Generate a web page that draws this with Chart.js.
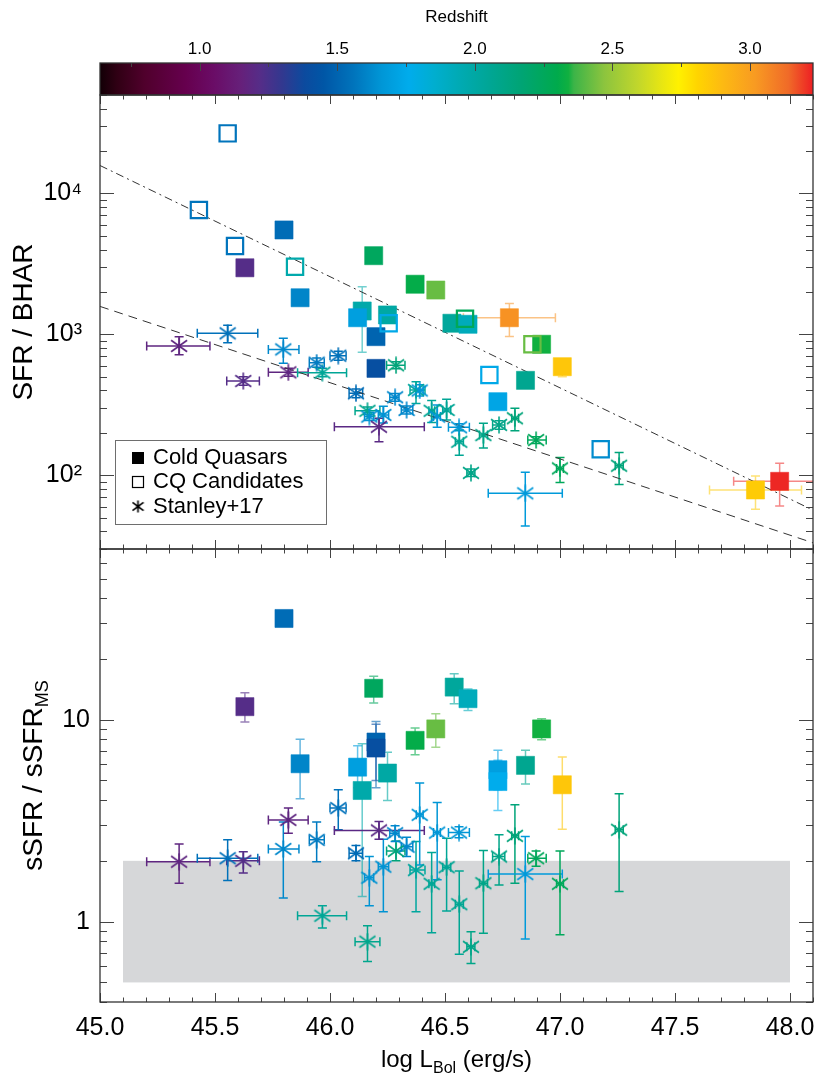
<!DOCTYPE html>
<html>
<head>
<meta charset="utf-8">
<script src="https://cdn.jsdelivr.net/npm/chart.js@4.4.0/dist/chart.umd.min.js"></script>
<style>
  html, body { margin: 0; padding: 0; background: #fff; }
  #wrap { position: relative; width: 830px; height: 1078px; }
  #wrap canvas { position: absolute; left: 0; top: 0; }
</style>
</head>
<body>
<div id="wrap">
  <canvas id="barChart" width="830" height="1078"></canvas>
  <canvas id="ratioChart" width="830" height="1078"></canvas>
  <canvas id="ssfrChart" width="830" height="1078"></canvas>
</div>
<script>
// Redshift colour scale
const zStops  = [0.638, 0.70, 0.80, 0.95, 1.05, 1.15, 1.22, 1.30, 1.38, 1.45, 1.56, 1.66, 1.76, 1.85, 1.95, 2.05, 2.17, 2.30, 2.34, 2.36, 2.47, 2.59, 2.68, 2.74, 2.81, 2.90, 3.02, 3.14, 3.229];
const zColors = ['#120006', '#300014', '#50002c', '#66004e', '#6a0c66', '#66207a', '#552d88', '#32388f', '#0c4a9e', '#0056a6', '#0074bc', '#0096d6', '#00acec', '#00aed0', '#00aab2', '#00a696', '#00a474', '#00aa4c', '#10b040', '#3cb448', '#8cc43e', '#c0d62c', '#e8e612', '#fff100', '#ffd400', '#fdba12', '#f89a22', '#f06a28', '#ed1f24'];
const zTickLabels = ['1.0', '1.5', '2.0', '2.5', '3.0'];

// Cold Quasars, SFR / BHAR
const cqLbol   = [45.63, 45.80, 45.87, 46.19, 46.37, 46.46, 46.14, 46.12, 46.25, 46.20, 46.20, 46.53, 46.60, 46.78, 46.92, 47.01, 46.85, 46.73, 47.85, 47.955];
const cqRatio  = [2970, 5510, 1820, 3620, 2270, 2065, 1466, 1313, 1374, 964, 574, 1200, 1180, 1313, 851, 590, 472, 333, 78.7, 90.6];
const cqZ      = [1.22, 1.53, 1.61, 2.24, 2.31, 2.42, 1.98, 1.70, 2.00, 1.50, 1.41, 2.03, 1.92, 3.04, 2.34, 2.86, 2.07, 1.73, 2.84, 3.22];
const cqRatioHi = [null, null, null, null, null, null, 2180, null, null, null, null, null, null, 1660, null, 640, null, null, 99, 121.6];
const cqRatioLo = [null, null, null, null, null, null, 746, null, null, null, null, null, null, 968, null, 500, null, null, 57.4, 60.5];
const cqLbolLo  = [null, null, null, null, null, null, null, null, null, null, null, null, null, 46.58, null, null, null, null, 47.65, 47.755];
const cqLbolHi  = [null, null, null, null, null, null, null, null, null, null, null, null, null, 46.98, null, null, null, null, 48.05, 48.155];

// CQ candidates, SFR / BHAR
const candLbol  = [45.555, 45.43, 45.587, 45.848, 46.255, 46.587, 46.88, 46.693, 47.177];
const candRatio = [26700, 7640, 4240, 3020, 1200, 1290, 851, 515, 153];
const candZ     = [1.56, 1.56, 1.56, 1.97, 1.74, 2.26, 2.42, 1.74, 1.63];

// Cold Quasars, sSFR / sSFR_MS
const ssLbol = [45.80, 45.63, 46.19, 46.20, 46.20, 46.37, 45.87, 46.12, 46.14, 46.25, 46.46, 46.54, 46.60, 46.92, 46.73, 46.73, 46.85, 47.01];
const ssVal  = [31.7, 11.6, 14.3, 7.75, 7.24, 7.9, 6.05, 5.82, 4.46, 5.44, 9.0, 14.5, 12.7, 9.0, 5.65, 4.94, 5.94, 4.76];
const ssZ    = [1.53, 1.22, 2.24, 1.50, 1.41, 2.31, 1.61, 1.70, 1.98, 2.00, 2.42, 2.03, 1.92, 2.34, 1.70, 1.76, 2.07, 2.86];
const ssHi   = [null, 13.6, 16.4, 9.8, 9.5, 9.1, 8.0, 7.43, 7.6, 6.9, 10.7, 16.9, 14.2, 10.1, 7.05, 6.3, 7.05, 6.53];
const ssLo   = [null, 9.75, 12.1, 4.6, 5.0, 6.7, 4.06, 4.6, 1.33, 3.98, 7.3, 12.0, 11.1, 7.95, 4.5, 3.55, 4.8, 2.87];

// Stanley+17
const stLbol   = [45.344, 45.555, 45.623, 45.797, 45.819, 45.967, 45.942, 46.036, 46.113, 46.287, 46.163, 46.171, 46.232, 46.213, 46.283, 46.333, 46.374, 46.39, 46.442, 46.466, 46.507, 46.561, 46.562, 46.667, 46.735, 46.804, 46.896, 46.613, 46.849, 47.0, 47.257];
const stLbolLo = [45.203, 45.423, 45.551, 45.732, 45.732, 45.859, 45.91, 46.0, 46.083, 46.246, 46.109, 46.15, 46.21, 46.019, 46.26, 46.31, 46.348, 46.375, 46.43, 46.45, 46.49, 46.515, 46.545, 46.65, 46.707, 46.79, 46.86, 46.595, 46.688, 46.985, 47.24];
const stLbolHi = [45.478, 45.686, 45.693, 45.865, 45.905, 46.072, 45.975, 46.07, 46.142, 46.326, 46.217, 46.19, 46.255, 46.41, 46.3, 46.36, 46.413, 46.405, 46.455, 46.48, 46.525, 46.606, 46.58, 46.685, 46.76, 46.82, 46.94, 46.63, 47.01, 47.015, 47.275];
const stZ      = [1.18, 1.55, 1.22, 1.62, 1.18, 2.05, 1.58, 1.55, 1.53, 2.15, 2.08, 1.65, 1.65, 1.20, 1.62, 1.62, 2.02, 1.66, 2.05, 1.66, 2.05, 1.66, 2.06, 2.10, 2.10, 2.15, 2.25, 2.10, 1.68, 2.25, 2.15];
const stRatio   = [828, 1018, 467, 783, 538, 535, 630, 706, 382, 604, 287, 261, 268, 221, 358, 291, 403, 400, 287, 261, 291, 219, 173, 193, 228, 254, 178, 104, 74.5, 112, 117];
const stRatioHi = [964, 1161, 500, 938, 575, 575, 680, 760, 410, 640, 305, 280, 309, 254, 380, 310, 461, 440, 339, 315, 346, 232, 210, 234, 244, 299, 188, 111, 105, 134, 145];
const stRatioLo = [718, 873, 436, 624, 505, 500, 585, 655, 355, 570, 270, 245, 235, 173, 335, 272, 324, 365, 237, 219, 247, 207, 139, 156, 212, 207, 168, 98, 43.6, 89, 86];
const stSsfr   = [1.98, 2.06, 2.0, 2.29, 3.19, 1.07, 2.54, 3.65, 2.18, 2.24, 0.796, 1.65, 1.87, 2.83, 2.74, 2.35, 1.8, 3.38, 1.54, 2.76, 1.86, 2.76, 1.22, 1.55, 2.1, 2.66, 2.06, 0.75, 1.72, 1.54, 2.85];
const stSsfrHi = [2.42, 2.54, 2.22, 3.11, 3.65, 1.2, 3.11, 4.5, 2.38, 2.51, 0.955, 2.1, 2.56, 3.13, 2.98, 2.62, 2.49, 4.86, 2.2, 3.89, 2.59, 2.95, 1.78, 2.25, 2.69, 3.79, 2.24, 0.89, 2.64, 2.24, 4.3];
const stSsfrLo = [1.55, 1.6, 1.74, 1.31, 2.74, 0.93, 1.98, 2.85, 2.0, 2.0, 0.634, 1.2, 1.12, 2.56, 2.49, 2.1, 1.12, 1.91, 0.88, 1.61, 1.13, 2.6, 0.69, 0.875, 1.52, 1.55, 1.88, 0.62, 0.82, 0.86, 1.41];

// reference lines and main-sequence band
const lineLbol     = [45.0, 48.1];
const dashDotRatio = [15800, 56.6];
const dashRatio    = [1580, 33.2];
const bandLbol = [45.1, 48.0];
const bandSsfr = [0.5, 2.0];

// axis tick labels
const lbolTickLabels  = ['45.0', '45.5', '46.0', '46.5', '47.0', '47.5', '48.0'];
const ratioDecades    = [2, 3, 4];
const ratioTickLabels = ['10²', '10³', '10⁴'];
const ssfrDecades     = [0, 1];
const ssfrTickLabels  = ['1', '10'];

const FONT = "'Liberation Sans', Arial, Helvetica, sans-serif";
Chart.defaults.font.family = FONT;
Chart.defaults.color = '#000';

function hexRgb(h) {
  const n = parseInt(h.slice(1), 16);
  return [n >> 16, (n >> 8) & 255, n & 255];
}

function zColor(z, a) {
  let i = 0;
  while (i < zStops.length - 2 && z > zStops[i + 1]) i++;
  const t = Math.min(1, Math.max(0, (z - zStops[i]) / (zStops[i + 1] - zStops[i])));
  const c0 = hexRgb(zColors[i]), c1 = hexRgb(zColors[i + 1]);
  const c = c0.map((v, k) => Math.round(v + (c1[k] - v) * t));
  return a == null ? `rgb(${c.join(',')})` : `rgba(${c.join(',')},${a})`;
}

// IDL-style asterisk as a point image
function asteriskIcon(color, size) {
  const c = document.createElement('canvas');
  c.width = c.height = size;
  const g = c.getContext('2d');
  const h = size / 2;
  g.strokeStyle = color;
  g.fillStyle = color;
  g.lineWidth = 1.6;
  g.beginPath();
  g.moveTo(h, 0.5); g.lineTo(h, size - 0.5);
  g.moveTo(1, size * 0.18); g.lineTo(size - 1, size * 0.82);
  g.moveTo(size - 1, size * 0.18); g.lineTo(1, size * 0.82);
  g.stroke();
  g.beginPath();
  g.arc(h, h, 1.8, 0, Math.PI * 2);
  g.fill();
  return c;
}

function linearValues(min, max, step) {
  const out = [];
  const start = Math.ceil(min / step - 1e-9);
  for (let k = start; k * step <= max + 1e-9; k++) out.push(+(k * step).toFixed(6));
  return out;
}

function logValues(min, max) {
  const out = [];
  for (let e = Math.floor(Math.log10(min)); e <= Math.ceil(Math.log10(max)); e++) {
    for (let m = 1; m <= 9; m++) {
      const v = m * Math.pow(10, e);
      if (v >= min * (1 - 1e-9) && v <= max * (1 + 1e-9)) out.push({ v, major: m === 1 });
    }
  }
  return out;
}

function isStep(v, step) {
  return Math.abs(v / step - Math.round(v / step)) < 1e-6;
}

// inward ticks and frame, like IDL plots
const idlAxes = {
  id: 'idlAxes',
  afterDatasetsDraw(chart, args, o) {
    const { ctx, chartArea: a } = chart;
    ctx.save();
    ctx.strokeStyle = '#444';
    ctx.lineWidth = 1;
    ctx.beginPath();
    if (o.x) {
      const xs = chart.scales.x;
      linearValues(xs.min, xs.max, o.x.step).forEach(v => {
        const px = Math.round(xs.getPixelForValue(v)) + 0.5;
        const len = isStep(v, o.x.major) ? o.x.len[0] : o.x.len[1];
        if (o.x.top) { ctx.moveTo(px, a.top); ctx.lineTo(px, a.top + len); }
        if (o.x.bottom) { ctx.moveTo(px, a.bottom); ctx.lineTo(px, a.bottom - len); }
      });
    }
    if (o.y) {
      const ys = chart.scales.y;
      logValues(ys.min, ys.max).forEach(t => {
        const py = Math.round(ys.getPixelForValue(t.v)) + 0.5;
        const len = t.major ? o.y.len[0] : o.y.len[1];
        ctx.moveTo(a.left, py); ctx.lineTo(a.left + len, py);
        ctx.moveTo(a.right, py); ctx.lineTo(a.right - len, py);
      });
    }
    ctx.stroke();
    ctx.lineWidth = 1.3;
    ctx.strokeStyle = '#333';
    ctx.strokeRect(a.left, a.top, a.right - a.left, a.bottom - a.top);
    ctx.restore();
  }
};

// error bars from dataset.err
const errorBars = {
  id: 'errorBars',
  beforeDatasetsDraw(chart) {
    const { ctx, chartArea: a } = chart;
    const xs = chart.scales.x, ys = chart.scales.y;
    ctx.save();
    ctx.beginPath();
    ctx.rect(a.left, a.top, a.right - a.left, a.bottom - a.top);
    ctx.clip();
    chart.data.datasets.forEach(ds => {
      const e = ds.err;
      if (!e) return;
      ds.data.forEach((p, i) => {
        const px = xs.getPixelForValue(p.x), py = ys.getPixelForValue(p.y);
        const cap = e.cap;
        ctx.strokeStyle = e.colors[i];
        ctx.lineWidth = e.width;
        ctx.beginPath();
        if (e.yLo && e.yLo[i] != null) {
          const y0 = ys.getPixelForValue(e.yLo[i]), y1 = ys.getPixelForValue(e.yHi[i]);
          ctx.moveTo(px, y0); ctx.lineTo(px, y1);
          ctx.moveTo(px - cap, y0); ctx.lineTo(px + cap, y0);
          ctx.moveTo(px - cap, y1); ctx.lineTo(px + cap, y1);
        }
        if (e.xLo && e.xLo[i] != null) {
          const x0 = xs.getPixelForValue(e.xLo[i]), x1 = xs.getPixelForValue(e.xHi[i]);
          ctx.moveTo(x0, py); ctx.lineTo(x1, py);
          ctx.moveTo(x0, py - cap); ctx.lineTo(x0, py + cap);
          ctx.moveTo(x1, py - cap); ctx.lineTo(x1, py + cap);
        }
        ctx.stroke();
      });
    });
    ctx.restore();
  }
};

// colour bar gradient
const colorBarFill = {
  id: 'colorBarFill',
  beforeDatasetsDraw(chart) {
    const { ctx, chartArea: a, scales: { x } } = chart;
    const g = ctx.createLinearGradient(a.left, 0, a.right, 0);
    zStops.forEach((z, i) => {
      const f = (x.getPixelForValue(z) - a.left) / (a.right - a.left);
      g.addColorStop(Math.min(1, Math.max(0, f)), zColors[i]);
    });
    ctx.fillStyle = g;
    ctx.fillRect(a.left, a.top, a.right - a.left, a.bottom - a.top);
  }
};

// grey band in lower panel
const msBand = {
  id: 'msBand',
  beforeDatasetsDraw(chart) {
    const { ctx, scales: { x, y } } = chart;
    const x0 = x.getPixelForValue(bandLbol[0]), x1 = x.getPixelForValue(bandLbol[1]);
    const y0 = y.getPixelForValue(bandSsfr[1]), y1 = y.getPixelForValue(bandSsfr[0]);
    ctx.save();
    ctx.fillStyle = '#d6d7d9';
    ctx.fillRect(x0, y0, x1 - x0, y1 - y0);
    ctx.restore();
  }
};

function drawSubText(ctx, main, sub, tail, big, small, drop, cx, y) {
  ctx.font = `${big}px ${FONT}`;
  const w1 = ctx.measureText(main).width, w3 = ctx.measureText(tail).width;
  ctx.font = `${small}px ${FONT}`;
  const w2 = ctx.measureText(sub).width;
  let x = cx - (w1 + w2 + w3) / 2;
  ctx.textAlign = 'left';
  ctx.textBaseline = 'alphabetic';
  ctx.font = `${big}px ${FONT}`; ctx.fillText(main, x, y); x += w1;
  ctx.font = `${small}px ${FONT}`; ctx.fillText(sub, x, y + drop); x += w2;
  ctx.font = `${big}px ${FONT}`; ctx.fillText(tail, x, y);
}

// y titles and x title (with subscripts)
const axisTitles = {
  id: 'axisTitles',
  afterDraw(chart, args, o) {
    const { ctx, chartArea: a } = chart;
    ctx.save();
    ctx.fillStyle = '#000';
    if (o.x) drawSubText(ctx, o.x[0], o.x[1], o.x[2], 24, 16, 6, (a.left + a.right) / 2, 1067);
    ctx.translate(o.yBase, (a.top + a.bottom) / 2);
    ctx.rotate(-Math.PI / 2);
    drawSubText(ctx, o.y[0], o.y[1], o.y[2], 28, 18, 6, 0, 0);
    ctx.restore();
  }
};

// legend box in upper panel
const legendBox = {
  id: 'legendBox',
  afterDraw(chart) {
    const ctx = chart.ctx;
    const labels = chart.data.datasets.filter(d => d.legendRow != null)
      .sort((p, q) => p.legendRow - q.legendRow).map(d => d.label);
    ctx.save();
    ctx.strokeStyle = '#6e6e6e';
    ctx.lineWidth = 1;
    ctx.strokeRect(115.5, 440.5, 211, 84);
    ctx.fillStyle = '#000';
    ctx.fillRect(132, 452, 12, 12);
    ctx.strokeStyle = '#000';
    ctx.lineWidth = 1.2;
    ctx.strokeRect(132.5, 476.5, 11, 11);
    ctx.drawImage(asteriskIcon('#000', 13), 131.5, 500);
    ctx.font = `22px ${FONT}`;
    ctx.textBaseline = 'alphabetic';
    ctx.textAlign = 'left';
    labels.forEach((t, i) => ctx.fillText(t, 153, 464 + i * 24.4));
    ctx.restore();
  }
};

function labelFor(values, labels, v, tol) {
  const i = values.findIndex(s => Math.abs(s - v) < tol);
  return i < 0 ? '' : labels[i];
}

const baseOptions = {
  responsive: false,
  animation: false,
  events: [],
};

// ---- colour bar ----
new Chart(document.getElementById('barChart'), {
  type: 'scatter',
  data: { datasets: [] },
  options: {
    ...baseOptions,
    layout: { padding: { left: 100, right: 17, top: 0, bottom: 983 } },
    plugins: {
      legend: { display: false },
      tooltip: { enabled: false },
      idlAxes: { x: { step: 0.25, major: 0.5, len: [8, 4], top: true, bottom: false } }
    },
    scales: {
      x: {
        type: 'linear', position: 'top', min: zStops[0], max: zStops[zStops.length - 1],
        afterFit: s => { s.height = 63; },
        grid: { display: false, drawTicks: false },
        border: { display: false },
        ticks: {
          stepSize: 0.25, includeBounds: false, autoSkip: false, maxRotation: 0, padding: 3,
          font: { size: 17 }, color: '#000',
          callback: v => labelFor(zTickLabels.map(Number), zTickLabels, v, 1e-6)
        },
        title: {
          display: true, text: 'Redshift', font: { size: 17, weight: 'normal' }, color: '#000',
          padding: { top: 7, bottom: 0 }
        }
      },
      y: { display: false, min: 0, max: 1 }
    }
  },
  plugins: [colorBarFill, idlAxes]
});

// ---- upper panel: SFR / BHAR ----
const stIcons = stZ.map(z => asteriskIcon(zColor(z), 18));

new Chart(document.getElementById('ratioChart'), {
  type: 'scatter',
  data: {
    datasets: [
      {
        label: 'CQ Candidates', legendRow: 1, order: 1,
        data: candLbol.map((x, i) => ({ x, y: candRatio[i] })),
        pointStyle: 'rect', pointRadius: 11.5, pointBorderWidth: 2.2,
        pointBackgroundColor: 'rgba(0,0,0,0)',
        pointBorderColor: candZ.map(z => zColor(z))
      },
      {
        label: 'Cold Quasars', legendRow: 0, order: 2,
        data: cqLbol.map((x, i) => ({ x, y: cqRatio[i] })),
        pointStyle: 'rect', pointRadius: 12.8, pointBorderWidth: 1,
        pointBackgroundColor: cqZ.map(z => zColor(z)),
        pointBorderColor: cqZ.map(z => zColor(z, 0.55)),
        err: { xLo: cqLbolLo, xHi: cqLbolHi, yLo: cqRatioLo, yHi: cqRatioHi, colors: cqZ.map(z => zColor(z, 0.55)), width: 1.5, cap: 4.5 }
      },
      {
        label: 'Stanley+17', legendRow: 2, order: 3,
        data: stLbol.map((x, i) => ({ x, y: stRatio[i] })),
        pointStyle: stIcons, pointRadius: 8,
        err: { xLo: stLbolLo, xHi: stLbolHi, yLo: stRatioLo, yHi: stRatioHi, colors: stZ.map(z => zColor(z)), width: 1.5, cap: 4.5 }
      },
      {
        label: 'dashed', order: 4, showLine: true, pointRadius: 0,
        data: lineLbol.map((x, i) => ({ x, y: dashRatio[i] })),
        borderColor: '#333', borderWidth: 1, borderDash: [9, 6]
      },
      {
        label: 'dash-dot', order: 5, showLine: true, pointRadius: 0,
        data: lineLbol.map((x, i) => ({ x, y: dashDotRatio[i] })),
        borderColor: '#333', borderWidth: 1, borderDash: [8, 4, 2, 4]
      }
    ]
  },
  options: {
    ...baseOptions,
    layout: { padding: { left: 0, right: 17, top: 95, bottom: 529 } },
    plugins: {
      legend: { display: false },
      tooltip: { enabled: false },
      idlAxes: {
        x: { step: 0.1, major: 0.5, len: [9, 4.5], top: true, bottom: true },
        y: { len: [14, 7] }
      },
      axisTitles: { y: ['SFR / BHAR', '', ''], yBase: 31.5 }
    },
    scales: {
      x: { type: 'linear', display: false, min: 45.0, max: 48.1 },
      y: {
        type: 'logarithmic', min: 30, max: 50000,
        afterFit: s => { s.width = 100; },
        grid: { display: false, drawTicks: false },
        border: { display: false },
        ticks: {
          autoSkip: false, padding: 18, font: { size: 25 }, color: '#000',
          callback: v => labelFor(ratioDecades, ratioTickLabels, Math.log10(v), 1e-6)
        }
      }
    }
  },
  plugins: [errorBars, idlAxes, axisTitles, legendBox]
});

// ---- lower panel: sSFR / sSFR_MS ----
new Chart(document.getElementById('ssfrChart'), {
  type: 'scatter',
  data: {
    datasets: [
      {
        label: 'Cold Quasars', order: 1,
        data: ssLbol.map((x, i) => ({ x, y: ssVal[i] })),
        pointStyle: 'rect', pointRadius: 12.8, pointBorderWidth: 1,
        pointBackgroundColor: ssZ.map(z => zColor(z)),
        pointBorderColor: ssZ.map(z => zColor(z, 0.55)),
        err: { yLo: ssLo, yHi: ssHi, colors: ssZ.map(z => zColor(z, 0.6)), width: 1.5, cap: 4.5 }
      },
      {
        label: 'Stanley+17', order: 2,
        data: stLbol.map((x, i) => ({ x, y: stSsfr[i] })),
        pointStyle: stIcons, pointRadius: 8,
        err: { xLo: stLbolLo, xHi: stLbolHi, yLo: stSsfrLo, yHi: stSsfrHi, colors: stZ.map(z => zColor(z)), width: 1.5, cap: 4.5 }
      }
    ]
  },
  options: {
    ...baseOptions,
    layout: { padding: { left: 0, right: 17, top: 549, bottom: 0 } },
    plugins: {
      legend: { display: false },
      tooltip: { enabled: false },
      idlAxes: {
        x: { step: 0.1, major: 0.5, len: [9, 4.5], top: true, bottom: true },
        y: { len: [14, 7] }
      },
      axisTitles: { x: ['log L', 'Bol', ' (erg/s)'], y: ['sSFR / sSFR', 'MS', ''], yBase: 41.5 }
    },
    scales: {
      x: {
        type: 'linear', position: 'bottom', min: 45.0, max: 48.1,
        afterFit: s => { s.height = 76; },
        grid: { display: false, drawTicks: false },
        border: { display: false },
        ticks: {
          stepSize: 0.1, includeBounds: false, autoSkip: false, maxRotation: 0, minRotation: 0,
          padding: 11, font: { size: 25 }, color: '#000',
          callback: v => labelFor(lbolTickLabels.map(Number), lbolTickLabels, v, 1e-6)
        }
      },
      y: {
        type: 'logarithmic', min: 0.4, max: 70,
        afterFit: s => { s.width = 100; },
        grid: { display: false, drawTicks: false },
        border: { display: false },
        ticks: {
          autoSkip: false, padding: 10, font: { size: 25 }, color: '#000',
          callback: v => labelFor(ssfrDecades, ssfrTickLabels, Math.log10(v), 1e-6)
        }
      }
    }
  },
  plugins: [msBand, errorBars, idlAxes, axisTitles]
});
</script>
</body>
</html>
